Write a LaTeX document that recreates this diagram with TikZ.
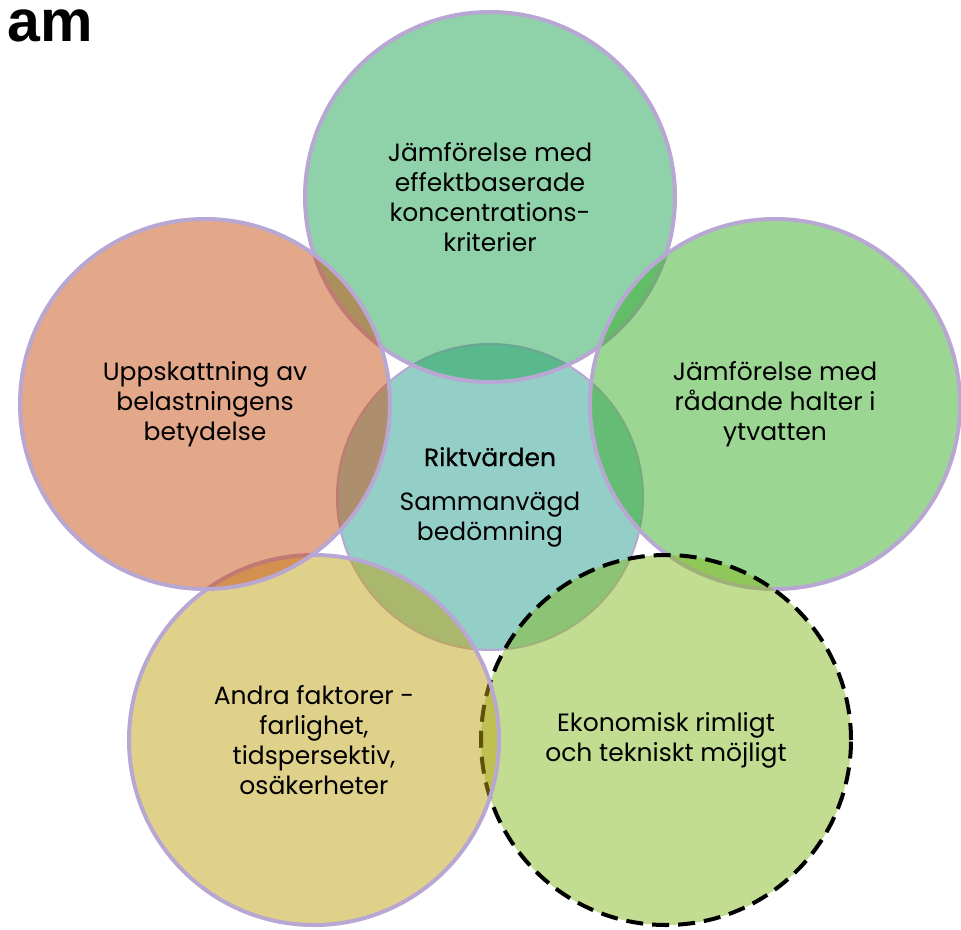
\documentclass[tikz,border=0pt]{standalone}
\usepackage{fontspec}
\setmainfont{Poppins}
\newfontfamily\rubrikfont{Liberation Sans}
\newfontfamily\fetfont{Poppins}[FakeBold=0.6]
\definecolor{lila}{RGB}{185,167,211}
\definecolor{mitt}{RGB}{148,207,199}
\definecolor{topp}{RGB}{31,163,83}
\definecolor{vanster}{RGB}{199,79,21}
\definecolor{hoger}{RGB}{55,173,37}
\definecolor{nedvanster}{RGB}{191,163,21}
\definecolor{nedhoger}{RGB}{133,185,35}
\begin{document}
\begin{tikzpicture}[x=0.5pt, y=-0.5pt, krets/.style={circle, draw=lila, line width=2pt, fill opacity=0.5, text opacity=1, minimum size=185pt, align=center, font=\fontsize{12.5}{15}\selectfont}, mittkrets/.style={circle, draw=lila, line width=1pt, fill=mitt, minimum size=153pt, align=center, font=\fontsize{12.5}{15}\selectfont}, streckad/.style={draw=black, dash pattern=on 8.5pt off 4.5pt}]
	\useasboundingbox (0,0) rectangle (961,929);
	\node[anchor=base west, inner sep=0pt, font=\rubrikfont\bfseries\fontsize{29.5}{34}\selectfont] (R) at (7,42) {am};
	\node[mittkrets] (M) at (490,497) {{\fetfont Riktvärden}\\[7pt]Sammanvägd\\bedömning};
	\node[krets, fill=topp] (K1) at (490,197) {Jämförelse med\\effektbaserade\\koncentrations-\\kriterier};
	\node[krets, fill=hoger] (K2) at (775,404) {Jämförelse med\\rådande halter i\\ytvatten};
	\node[krets, streckad, fill=nedhoger] (K3) at (666,740) {Ekonomisk rimligt\\och tekniskt möjligt};
	\node[krets, fill=nedvanster] (K4) at (314,740) {Andra faktorer -\\farlighet,\\tidspersektiv,\\osäkerheter};
	\node[krets, fill=vanster] (K5) at (205,404) {Uppskattning av\\belastningens\\betydelse};
\end{tikzpicture}
\end{document}
